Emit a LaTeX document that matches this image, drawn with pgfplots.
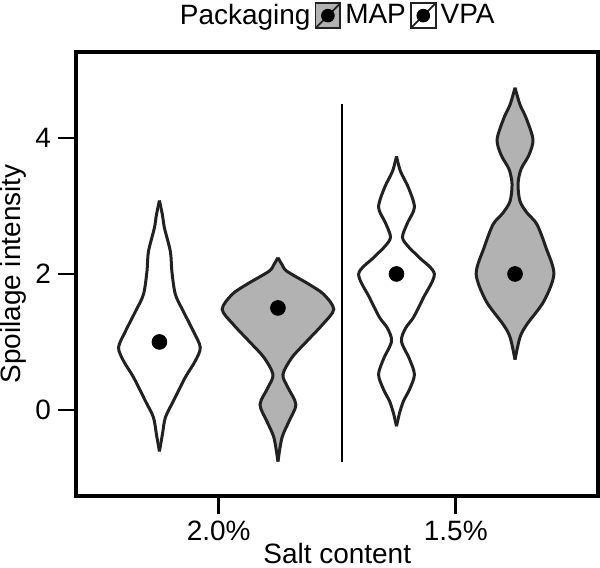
\documentclass[border=0pt]{standalone}
\usepackage{fontspec}
\setmainfont{Liberation Sans}
\usepackage{pgfplots}
\pgfplotsset{compat=1.18}
\usepgfplotslibrary{fillbetween}
\usepackage{pgfplotstable}

% violin outlines: y value, half width in pixels (1 x-unit = 238 px)
\pgfplotstableread{
y w
-0.61 0
-0.36 3
-0.11 6
0.13 14
0.48 26
0.72 36
0.92 41
1.16 34
1.45 24
1.70 16
2.04 12.5
2.33 11
2.68 5
2.87 3
3.08 0
}\vA
\pgfplotstableread{
y w
-0.76 0
-0.41 4
-0.17 11
0.08 18
0.33 10
0.52 5
0.77 14
1.01 29
1.26 45
1.48 56
1.70 46
1.85 31
2.04 9
2.14 4
2.24 0
}\vB
\pgfplotstableread{
y w
-0.24 0
-0.05 3
0.13 7
0.30 13
0.52 18
0.75 13
1.01 5
1.20 9
1.36 17
1.65 27
2.00 38
2.24 23
2.40 12
2.54 6
2.75 11
2.98 18
3.27 12
3.51 4
3.73 0
}\vC
\pgfplotstableread{
y w
0.74 0
1.07 5
1.26 12
1.60 29
2.00 39
2.39 31
2.73 22
2.90 12
3.07 5
3.32 3
3.54 6
3.75 14
3.98 18
4.30 11
4.49 5
4.74 0
}\vD

\definecolor{vfill}{gray}{0.70}
\definecolor{vline}{gray}{0.13}

\pgfplotsset{
  vout/.style={vline, line width=1.5pt, smooth, forget plot},
}

\begin{document}
\begin{tikzpicture}
\begin{axis}[
  set layers,
  scale only axis,
  width=261pt, height=222.5pt,
  xmin=-0.6, xmax=1.6, ymin=-1.27, ymax=5.27,
  xtick={0,1}, xticklabels={2.0\%,1.5\%},
  ytick={0,2,4},
  tick pos=left, tick align=outside,
  major tick length=9pt,
  every tick/.style={black, line width=1.4pt},
  axis line style={line width=2pt},
  font=\fontsize{14}{16}\selectfont,
  /pgf/number format/assume math mode=true,
  xticklabel style={inner sep=1pt, yshift=-2pt},
  yticklabel style={inner sep=1pt, xshift=-2.5pt},
  xlabel={Salt content}, ylabel={Spoilage intensity},
  every axis x label/.style={at={(axis description cs:0.5,-0.152)}, anchor=base, inner sep=1.5pt},
  every axis y label/.style={at={(axis description cs:-0.0958,0.5)}, rotate=90, anchor=south, inner sep=0pt},
  legend columns=-1,
  legend style={at={(0.5,1)}, anchor=south, yshift=10pt, draw=none, inner sep=0pt,
    font=\fontsize{14}{16}\selectfont},
]
% legend
\addlegendimage{empty legend}
\addlegendentry{Packaging}
\addlegendimage{legend image code/.code={
  \draw[vline, line width=0.9pt, fill=vfill] (0pt,-6.25pt) rectangle (12.5pt,6.25pt);
  \draw[vline, line width=0.9pt] (0pt,-6.25pt) -- (12.5pt,6.25pt);
  \fill[black] (6.25pt,0pt) circle (3.2pt);}}
\addlegendentry{MAP}
\addlegendimage{legend image code/.code={
  \draw[vline, line width=0.9pt, fill=white] (0pt,-6.25pt) rectangle (12.5pt,6.25pt);
  \draw[vline, line width=0.9pt] (0pt,-6.25pt) -- (12.5pt,6.25pt);
  \fill[black] (6.25pt,0pt) circle (3.2pt);}}
\addlegendentry{VPA}

% violin A: VPA, 2.0%
\addplot[vout, name path=AR] table[x expr=-0.25+\thisrow{w}/238, y=y] {\vA};
\addplot[vout, name path=AL] table[x expr=-0.25-\thisrow{w}/238, y=y] {\vA};
\addplot[fill=white, draw=none, forget plot] fill between[of=AR and AL];
% violin B: MAP, 2.0%
\addplot[vout, name path=BR] table[x expr=0.25+\thisrow{w}/238, y=y] {\vB};
\addplot[vout, name path=BL] table[x expr=0.25-\thisrow{w}/238, y=y] {\vB};
\addplot[fill=vfill, draw=none, forget plot] fill between[of=BR and BL];
% violin C: VPA, 1.5%
\addplot[vout, name path=CR] table[x expr=0.75+\thisrow{w}/238, y=y] {\vC};
\addplot[vout, name path=CL] table[x expr=0.75-\thisrow{w}/238, y=y] {\vC};
\addplot[fill=white, draw=none, forget plot] fill between[of=CR and CL];
% violin D: MAP, 1.5%
\addplot[vout, name path=DR] table[x expr=1.25+\thisrow{w}/238, y=y] {\vD};
\addplot[vout, name path=DL] table[x expr=1.25-\thisrow{w}/238, y=y] {\vD};
\addplot[fill=vfill, draw=none, forget plot] fill between[of=DR and DL];

% means
\addplot[only marks, mark=*, mark size=3.7pt, black, forget plot] coordinates {(-0.25,1) (0.25,1.5) (0.75,2) (1.25,2)};

% separator
\addplot[black, line width=1pt, forget plot] coordinates {(0.52,-0.76) (0.52,4.5)};
\end{axis}
\end{tikzpicture}
\end{document}
